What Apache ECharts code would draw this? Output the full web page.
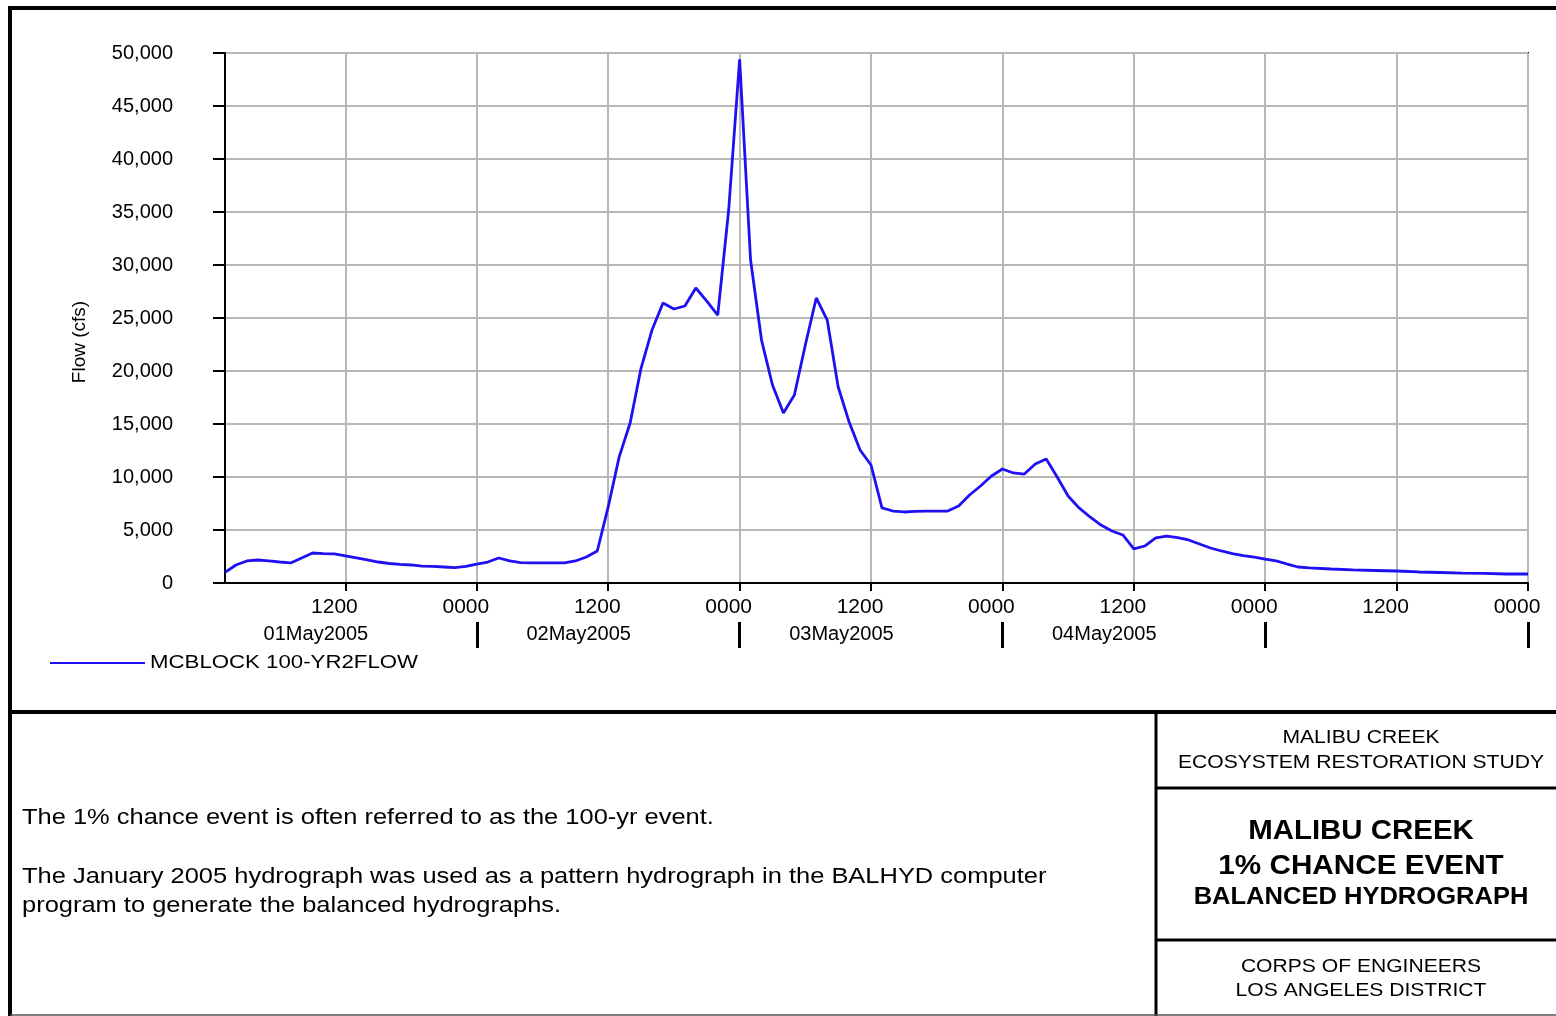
<!DOCTYPE html>
<html>
<head>
<meta charset="utf-8">
<title>Malibu Creek 1% Chance Event Balanced Hydrograph</title>
<script src="https://cdn.jsdelivr.net/npm/echarts@6/dist/echarts.min.js"></script>
<style>
  html, body { margin: 0; padding: 0; background: #fff; }
  #chart { width: 1556px; height: 1016px; }
</style>
</head>
<body>
<div id="chart"></div>
<script>
// Simulated flow at MCBLOCK, hours counted from 01May2005 00:00
const hours = [
  1, 2, 3, 4, 5, 6, 7, 8, 9, 10, 11, 12, 13, 14, 15, 16, 17, 18, 19, 20,
  21, 22, 23, 24, 25, 26, 27, 28, 29, 30, 31, 32, 33, 34, 35, 36, 37, 38, 39, 40,
  41, 42, 43, 44, 45, 46, 47, 48, 49, 50, 51, 52, 53, 54, 55, 56, 57, 58, 59, 60,
  61, 62, 63, 64, 65, 66, 67, 68, 69, 70, 71, 72, 73, 74, 75, 76, 77, 78, 79, 80,
  81, 82, 83, 84, 85, 86, 87, 88, 89, 90, 91, 92, 93, 94, 95, 96, 97, 98, 99, 100,
  102, 104, 106, 108, 110, 112, 114, 116, 118, 120
];
const flow = [
  1000, 1700, 2080, 2170, 2080, 1980, 1890, 2360, 2830, 2780, 2740, 2550, 2360, 2170, 1980, 1840, 1750, 1700, 1600, 1560,
  1510, 1460, 1560, 1790, 1980, 2360, 2080, 1930, 1890, 1890, 1890, 1890, 2080, 2450, 3020, 7200, 11900, 15090, 20280, 23870,
  26420, 25850, 26130, 27830, 26600, 25280, 35190, 49400, 30470, 22920, 18680, 16040, 17740, 22450, 26890, 24810, 18490, 15190, 12550, 11130,
  7080, 6790, 6700, 6750, 6790, 6790, 6790, 7260, 8300, 9150, 10090, 10750, 10380, 10280, 11230, 11700, 10000, 8210, 7080, 6230,
  5470, 4910, 4530, 3210, 3490, 4250, 4430, 4290, 4060, 3680, 3300, 3020, 2780, 2590, 2450, 2260, 2080, 1790, 1510, 1420,
  1320, 1230, 1180, 1130, 1040, 990, 940, 900, 850, 850
];

const seriesName = 'MCBLOCK 100-YR2FLOW';
const clockTickHours = [12, 24, 36, 48, 60, 72, 84, 96, 108, 120];
const clockNoon = '1200';
const clockMidnight = '0000';
const dayLabels = ['01May2005', '02May2005', '03May2005', '04May2005'];
const dayLabelHours = [9.3, 33.3, 57.3, 81.3];
const dayBreakHours = [24, 48, 72, 96, 120];

const noteLines = [
  'The 1% chance event is often referred to as the 100-yr event.',
  'The January 2005 hydrograph was used as a pattern hydrograph in the BALHYD computer',
  'program to generate the balanced hydrographs.'
];
const studyLines = ['MALIBU CREEK', 'ECOSYSTEM RESTORATION STUDY'];
const titleLines = ['MALIBU CREEK', '1% CHANCE EVENT', 'BALANCED HYDROGRAPH'];
const agencyLines = ['CORPS OF ENGINEERS', 'LOS ANGELES DISTRICT'];

const FONT = '"Liberation Sans", Arial, Helvetica, sans-serif';
const LINE_BLUE = '#1e10f2';

const chart = echarts.init(document.getElementById('chart'), null, { renderer: 'canvas' });

function fmtThousands(v) {
  return v === 0 ? '0' : v.toLocaleString('en-US');
}

function hline(x1, x2, y, w, c) {
  return { type: 'line', shape: { x1: x1, y1: y, x2: x2, y2: y }, style: { stroke: c || '#000', lineWidth: w }, silent: true };
}
function vline(x, y1, y2, w, c) {
  return { type: 'line', shape: { x1: x, y1: y1, x2: x, y2: y2 }, style: { stroke: c || '#000', lineWidth: w }, silent: true };
}
// text block drawn at an anchor point, optionally stretched horizontally
function txt(s, x, y, size, opts) {
  opts = opts || {};
  return {
    type: 'text', x: x, y: y, rotation: opts.rotation || 0, silent: true,
    scaleX: opts.stretch || 1,
    style: {
      text: s, fill: '#000', font: (opts.bold ? 'bold ' : '') + size + 'px ' + FONT,
      textAlign: opts.align || 'left', textVerticalAlign: 'middle'
    }
  };
}

const NOTE_STRETCH = 1.157;
const BLOCK_STRETCH = 1.11;

const graphics = [
  // drawing frame
  hline(8, 1556, 8, 4),
  vline(10, 6, 1016, 4),
  hline(8, 1556, 712, 4),
  vline(1156, 712, 1016, 3),
  hline(1156, 1556, 788, 3),
  hline(1156, 1556, 940, 3),
  hline(10, 1556, 1015, 1.5, '#555'),
  // y axis title
  txt('Flow (cfs)', 80, 342, 19, { rotation: Math.PI / 2, align: 'center' }),
  // notes
  txt(noteLines[0], 22, 818, 22, { stretch: NOTE_STRETCH }),
  txt(noteLines[1], 22, 877, 22, { stretch: NOTE_STRETCH }),
  txt(noteLines[2], 22, 906, 22, { stretch: NOTE_STRETCH }),
  // title block
  txt(studyLines[0], 1361, 738, 19, { align: 'center', stretch: BLOCK_STRETCH }),
  txt(studyLines[1], 1361, 763, 19, { align: 'center', stretch: BLOCK_STRETCH }),
  txt(titleLines[0], 1361, 832, 27, { align: 'center', bold: true, stretch: 1.09 }),
  txt(titleLines[1], 1361, 867, 27, { align: 'center', bold: true, stretch: 1.10 }),
  txt(titleLines[2], 1361, 898, 23, { align: 'center', bold: true, stretch: BLOCK_STRETCH }),
  txt(agencyLines[0], 1361, 967, 19, { align: 'center', stretch: BLOCK_STRETCH }),
  txt(agencyLines[1], 1361, 991, 19, { align: 'center', stretch: BLOCK_STRETCH }),
  // legend entry
  hline(50, 145, 663, 2, LINE_BLUE),
  txt(seriesName, 150, 663, 19, { stretch: 1.17 })
];

const option = {
  backgroundColor: '#fff',
  animation: false,
  textStyle: { fontFamily: FONT },
  grid: {
    left: 225, top: 53, right: 28, bottom: 433,
    show: true, borderColor: '#000', borderWidth: 2, backgroundColor: 'transparent'
  },
  xAxis: [
    {
      type: 'value', min: 1, max: 120,
      axisLine: { show: true, lineStyle: { color: '#000', width: 2 } },
      axisTick: { show: true, customValues: clockTickHours, length: 8, lineStyle: { color: '#000', width: 2 } },
      axisLabel: {
        customValues: clockTickHours, margin: 14, fontSize: 21, color: '#000', fontFamily: FONT,
        padding: [0, 22, 0, 0],
        formatter: function (v) { return v % 24 === 0 ? clockMidnight : clockNoon; }
      },
      splitLine: { show: true, lineStyle: { color: '#b8b8b8', width: 2 } }
    },
    {
      type: 'value', min: 1, max: 120, position: 'bottom', offset: 39,
      axisLine: { show: false },
      axisTick: { show: true, customValues: dayBreakHours, length: 26, lineStyle: { color: '#000', width: 3 } },
      axisLabel: {
        customValues: dayLabelHours, margin: 2, fontSize: 20, color: '#000', fontFamily: FONT,
        formatter: function (v) {
          const i = dayLabelHours.indexOf(v);
          return i >= 0 ? dayLabels[i] : '';
        }
      },
      splitLine: { show: false }
    }
  ],
  yAxis: {
    type: 'value', min: 0, max: 50000, interval: 5000,
    axisLine: { show: true, lineStyle: { color: '#000', width: 2 } },
    axisTick: { show: true, length: 12, lineStyle: { color: '#000', width: 2 } },
    axisLabel: { margin: 52, fontSize: 20, color: '#000', fontFamily: FONT, formatter: fmtThousands },
    splitLine: { show: true, lineStyle: { color: '#b8b8b8', width: 2 } }
  },
  series: [{
    name: seriesName,
    type: 'line',
    xAxisIndex: 0,
    data: hours.map(function (h, i) { return [h, flow[i]]; }),
    showSymbol: false,
    symbol: 'none',
    lineStyle: { color: LINE_BLUE, width: 2.8 },
    itemStyle: { color: LINE_BLUE },
    z: 5
  }],
  graphic: graphics
};

chart.setOption(option);
</script>
</body>
</html>
